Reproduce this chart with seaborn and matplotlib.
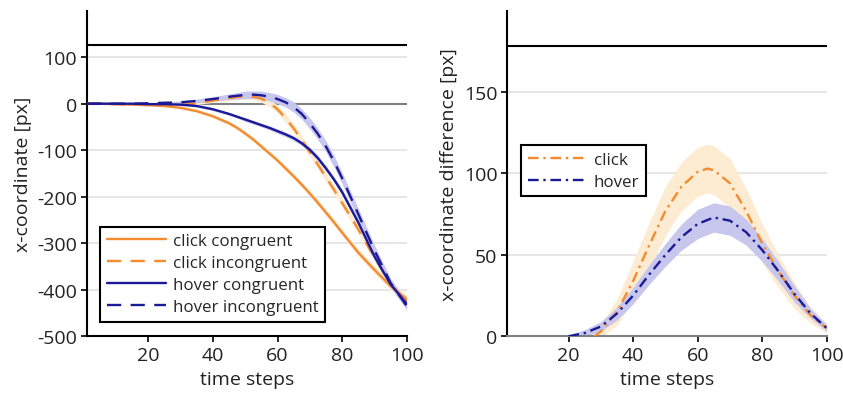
import numpy as np
import pandas as pd
import matplotlib
matplotlib.use("Agg")
import matplotlib.pyplot as plt
import seaborn as sns
from matplotlib.lines import Line2D

# ---------------- data ----------------
t_left = [1, 5, 10, 15, 20, 25, 30, 35, 40, 45, 47.5, 50, 52.5, 55, 57.5, 60, 62.5, 65,
          67.5, 70, 72.5, 75, 77.5, 80, 85, 90, 95, 100]
click_congruent = [0, 0, -1, -2, -3, -5, -9, -16, -27, -42, -52, -64, -77, -92, -107, -122, -139, -156,
                   -174, -193, -213, -234, -255, -277, -320, -357, -392, -420]
click_incongruent = [0, 0, -1, -2, -3, -4, -3, 1, 7, 12, 14.5, 16, 15, 11, 2, -12, -31, -53,
                     -78, -104, -131, -158, -185, -213, -270, -330, -388, -425]
hover_congruent = [0, 0, 0, 0, -1, -1, -2, -5, -12, -22, -28, -34, -40, -46, -52, -59, -66, -74,
                   -85, -99, -117, -139, -163, -190, -255, -328, -388, -430]
hover_incongruent = [0, 0, 0, 0, 1, 2, 3, 6, 10, 15, 17, 19, 19.5, 18, 15, 10, 3, -7,
                     -22, -42, -65, -92, -124, -160, -237, -315, -385, -435]
click_congruent_err = [0, 0, 0, 0, 1, 1, 2, 3, 4, 4, 4, 5, 5, 5, 5, 5, 6, 6,
                       6, 6, 7, 7, 7, 7, 8, 8, 8, 8]
click_incongruent_err = [0, 0, 0, 0, 1, 1, 2, 3, 4, 6, 6, 7, 7, 8, 8, 9, 9, 10,
                         10, 10, 10, 10, 10, 10, 10, 10, 9, 8]
hover_congruent_err = [0, 0, 0, 0, 1, 1, 2, 2, 3, 3, 3, 4, 4, 4, 4, 5, 5, 5,
                       5, 6, 6, 6, 6, 7, 7, 8, 8, 8]
hover_incongruent_err = [0, 0, 0, 0, 1, 2, 3, 4, 5, 6, 7, 8, 8, 9, 9, 10, 10, 11,
                         11, 12, 12, 12, 12, 12, 12, 11, 10, 8]

t_click = [28, 30, 35, 40, 45, 50, 55, 60, 63, 65, 70, 75, 80, 85, 90, 95, 100]
click_diff = [0, 3, 15, 34, 56, 77, 92, 101, 103, 102, 94, 77, 57, 40, 25, 13, 5]
click_diff_err = [3, 4, 8, 12, 14, 15, 15, 15, 15, 15, 15, 14, 12, 10, 8, 5, 3]
t_hover = [20, 25, 30, 35, 40, 45, 50, 55, 60, 65, 70, 75, 80, 85, 90, 95, 100]
hover_diff = [0, 2, 6, 14, 25, 38, 50, 61, 69, 73, 71, 64, 53, 40, 26, 14, 5]
hover_diff_err = [1, 2, 3, 4, 5, 6, 7, 8, 9, 9, 9, 8, 7, 6, 5, 3, 2]

left_labels = ["click congruent", "click incongruent", "hover congruent", "hover incongruent"]
right_labels = ["click", "hover"]
x_ticks = [20, 40, 60, 80, 100]
left_yticks = [-500, -400, -300, -200, -100, 0, 100]
right_yticks = [0, 50, 100, 150]

# ---------------- style ----------------
sns.set_theme(style="white")
plt.rcParams["font.family"] = ["Open Sans", "DejaVu Sans"]
plt.rcParams["axes.unicode_minus"] = False

ORANGE = "#F58A2E"
NAVY = "#1A1A99"
ORANGE_BAND = "#FDEBD2"
NAVY_BAND = "#C7C7EE"
FS = 14
LFS = 12.2
LW = 1.7
DASH = (0, (6, 4))
DASHDOT = (0, (4.5, 2, 1, 2))

fig = plt.figure(figsize=(8.43, 4.02), dpi=100)
axL = fig.add_axes([0.1032, 0.161, 0.3792, 0.810])
axR = fig.add_axes([0.6018, 0.161, 0.3789, 0.810])

# ---------------- left panel ----------------
left_series = [click_congruent, click_incongruent, hover_congruent, hover_incongruent]
left_errs = [click_congruent_err, click_incongruent_err, hover_congruent_err, hover_incongruent_err]
left_colors = [ORANGE, ORANGE, NAVY, NAVY]
left_bands = [ORANGE_BAND, ORANGE_BAND, NAVY_BAND, NAVY_BAND]
left_styles = ["-", DASH, "-", DASH]

for yv in [-400, -300, -200, -100, 100]:
    axL.axhline(yv, color="#E2E2E2", lw=1.2, zorder=0)
axL.axhline(0, color="#808080", lw=1.5, zorder=1)
axL.axhline(127, color="black", lw=1.5, zorder=1)

for vals, err, band in zip(left_series, left_errs, left_bands):
    v = np.array(vals, float)
    e = np.array(err, float)
    axL.fill_between(t_left, v - e, v + e, color=band, lw=0, zorder=2)

df_left = pd.DataFrame({
    "t": t_left * 4,
    "value": sum(left_series, []),
    "cond": sum([[lab] * len(t_left) for lab in left_labels], []),
})
for lab, col, ls in zip(left_labels, left_colors, left_styles):
    sns.lineplot(data=df_left[df_left["cond"] == lab], x="t", y="value",
                 color=col, linestyle=ls, lw=LW, ax=axL, zorder=3)

axL.set_xlim(1, 100)
axL.set_ylim(-500, 200)
axL.set_xticks(x_ticks)
axL.set_yticks(left_yticks)
axL.set_yticklabels([str(v) for v in left_yticks])
axL.set_xlabel("time steps", fontsize=FS)
axL.set_ylabel("x-coordinate [px]", fontsize=FS)

handles = [Line2D([], [], color=c, linestyle=s, lw=LW) for c, s in zip(left_colors, left_styles)]
legL = axL.legend(handles, left_labels, loc="lower left", bbox_to_anchor=(0.041, 0.044),
                  borderaxespad=0, fontsize=LFS, frameon=True, fancybox=False,
                  framealpha=1, edgecolor="black", handlelength=3.5, handletextpad=0.4,
                  labelspacing=0.35, borderpad=0.4)
legL.get_frame().set_linewidth(1.5)

# ---------------- right panel ----------------
for yv in [50, 100, 150]:
    axR.axhline(yv, color="#E2E2E2", lw=1.2, zorder=0)
axR.axhline(178.5, color="black", lw=1.5, zorder=1)

cd = np.array(click_diff, float); ce = np.array(click_diff_err, float)
hd = np.array(hover_diff, float); he = np.array(hover_diff_err, float)
axR.fill_between(t_click, cd - ce, cd + ce, color=ORANGE_BAND, lw=0, zorder=2)
axR.fill_between(t_hover, hd - he, hd + he, color=NAVY_BAND, lw=0, zorder=2)

df_r = pd.concat([
    pd.DataFrame({"t": t_click, "value": click_diff, "cond": "click"}),
    pd.DataFrame({"t": t_hover, "value": hover_diff, "cond": "hover"}),
])
sns.lineplot(data=df_r[df_r["cond"] == "click"], x="t", y="value", color=ORANGE,
             linestyle=DASHDOT, lw=LW, ax=axR, zorder=3)
sns.lineplot(data=df_r[df_r["cond"] == "hover"], x="t", y="value", color=NAVY,
             linestyle=DASHDOT, lw=LW, ax=axR, zorder=3)

axR.set_xlim(1, 100)
axR.set_ylim(0, 200)
axR.set_xticks(x_ticks)
axR.set_yticks(right_yticks)
axR.set_xlabel("time steps", fontsize=FS)
axR.set_ylabel("x-coordinate difference [px]", fontsize=FS)

handlesR = [Line2D([], [], color=c, linestyle=DASHDOT, lw=LW) for c in [ORANGE, NAVY]]
legR = axR.legend(handlesR, right_labels, loc="upper left", bbox_to_anchor=(0.042, 0.5875),
                  borderaxespad=0, fontsize=LFS, frameon=True, fancybox=False,
                  framealpha=1, edgecolor="black", handlelength=3.5, handletextpad=0.4,
                  labelspacing=0.35, borderpad=0.4)
legR.get_frame().set_linewidth(1.5)

for ax in (axL, axR):
    sns.despine(ax=ax)
    ax.spines["left"].set_linewidth(1.5)
    ax.spines["bottom"].set_linewidth(1.5)
    ax.spines["left"].set_color("black")
    ax.spines["bottom"].set_color("black")
    ax.tick_params(axis="both", which="both", direction="out", length=4, width=1.2,
                   colors="black", labelsize=FS, bottom=True, left=True, pad=3)
    for lab in ax.get_xticklabels() + ax.get_yticklabels():
        lab.set_color("#222222")
    ax.xaxis.label.set_color("#222222")
    ax.yaxis.label.set_color("#222222")
axR.spines["bottom"].set_color("#808080")

fig.savefig("out.png", dpi=100)
